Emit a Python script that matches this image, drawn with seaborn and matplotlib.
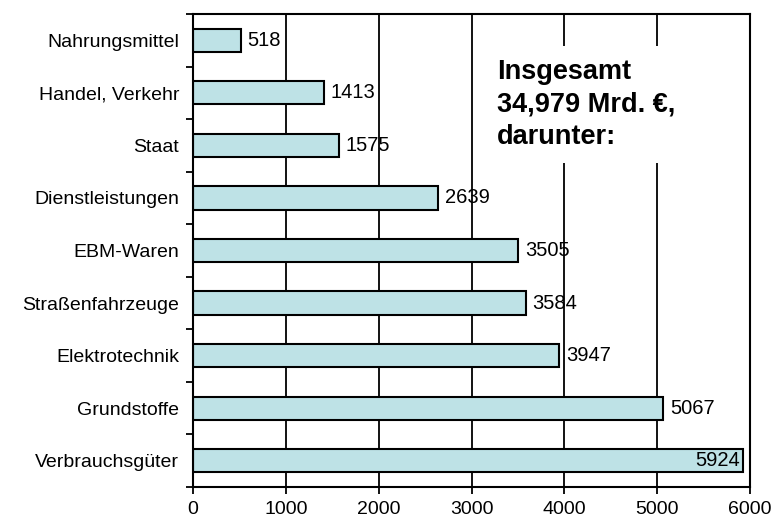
import matplotlib
matplotlib.use("Agg")
import matplotlib.pyplot as plt
import seaborn as sns
import pandas as pd

# Werte (Mrd. €)
categories = ['Nahrungsmittel', 'Handel, Verkehr', 'Staat', 'Dienstleistungen',
              'EBM-Waren', 'Straßenfahrzeuge', 'Elektrotechnik', 'Grundstoffe',
              'Verbrauchsgüter']
values = [518, 1413, 1575, 2639, 3505, 3584, 3947, 5067, 5924]
x_ticks = [0, 1000, 2000, 3000, 4000, 5000, 6000]
note = 'Insgesamt\n34,979 Mrd. €,\ndarunter:'

df = pd.DataFrame({'Bereich': categories, 'Wert': values})

sns.set_style("ticks")
plt.rcParams['font.family'] = ['Liberation Sans', 'DejaVu Sans']
plt.rcParams['text.color'] = 'black'
plt.rcParams['xtick.color'] = 'black'
plt.rcParams['ytick.color'] = 'black'
plt.rcParams['axes.labelcolor'] = 'black'

fig = plt.figure(figsize=(7.79, 5.21), dpi=100)
ax = fig.add_axes([0.2478, 0.0653, 0.7150, 0.9078])

# vertical grid lines behind the bars
for xv in x_ticks[1:-1]:
    ax.axvline(xv, color='black', lw=1.3, zorder=0)

sns.barplot(data=df, x='Wert', y='Bereich', orient='h', width=0.44,
            color='#BEE2E6', saturation=1, edgecolor='black', linewidth=1.5,
            ax=ax, zorder=2)

ax.set_xlim(0, 6000)
ax.set_ylim(len(categories) - 0.5, -0.5)
ax.set_xticks(x_ticks)
ax.set_xticklabels([str(t) for t in x_ticks], fontsize=14)
ax.set_xlabel('')
ax.set_ylabel('')
ax.tick_params(axis='y', which='major', length=0, pad=10, labelsize=14)
ax.set_yticks([i - 0.5 for i in range(len(categories) + 1)], minor=True)
ax.tick_params(axis='y', which='minor', length=5, width=1.3, direction='out')
ax.tick_params(axis='x', length=5, width=1.3, direction='out', pad=5)

for s in ax.spines.values():
    s.set_linewidth(1.5)
    s.set_color('black')

# value labels
for i, v in enumerate(values):
    if v > 5500:
        ax.text(v - 30, i, str(v), va='center', ha='right', fontsize=14.5, zorder=5)
    else:
        ax.text(v + 70, i, str(v), va='center', ha='left', fontsize=14.5, zorder=5)

ax.text(0.546, 0.905, note, transform=ax.transAxes, ha='left', va='top',
        fontsize=19.5, fontweight='bold', linespacing=1.33, zorder=6,
        bbox=dict(facecolor='white', edgecolor='none', pad=9))

fig.savefig('out.png', dpi=100)
